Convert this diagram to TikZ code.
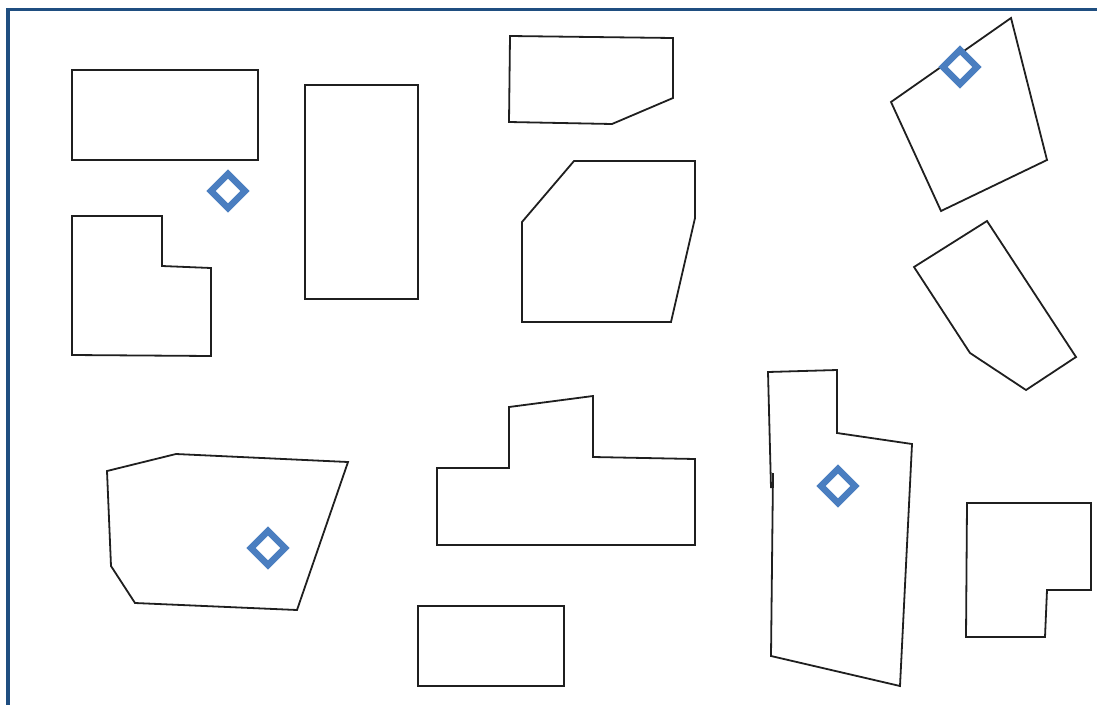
\documentclass[tikz,border=0pt]{standalone}
\begin{document}
\begin{tikzpicture}[x=1pt,y=-1pt,
  outline/.style={draw=black!88, line width=1.8pt, line join=miter},
  frame/.style={draw={rgb,255:red,31;green,78;blue,128}, line width=3.4pt},
  marker/.style={draw={rgb,255:red,74;green,126;blue,192}, line width=6.5pt, line join=miter}]
\useasboundingbox (0,0) rectangle (1097,704);
\draw[frame] (8,710) -- (8,9.5) -- (1100,9.5);
% shapes
\draw[outline] (72,70) rectangle (258,160);
\draw[outline] (72,216) -- (162,216) -- (162,266) -- (211,268) -- (211,356) -- (72,355) -- cycle;
\draw[outline] (305,85) rectangle (418,299);
\draw[outline] (510,36) -- (673,38) -- (673,98) -- (612,124) -- (509,122) -- cycle;
\draw[outline] (574,161) -- (695,161) -- (695,218) -- (671,322) -- (522,322) -- (522,222) -- cycle;
\draw[outline] (891,102) -- (1011,18) -- (1047,160) -- (941,211) -- cycle;
\draw[outline] (914,267) -- (987,221) -- (1076,357) -- (1026,390) -- (970,353) -- cycle;
\draw[outline] (107,471) -- (176,454) -- (348,462) -- (297,610) -- (135,603) -- (111,566) -- cycle;
\draw[outline] (437,468) -- (509,468) -- (509,407) -- (593,396) -- (593,457) -- (695,459) -- (695,545) -- (437,545) -- cycle;
\draw[outline] (418,606) rectangle (564,686);
\draw[outline] (773,473) -- (771,656) -- (900,686) -- (912,444) -- (837,433) -- (837,370) -- (768,372) -- (771,488);
\draw[outline] (967,503) -- (1091,503) -- (1091,590) -- (1047,590) -- (1045,637) -- (966,637) -- cycle;
% markers
\foreach \cx/\cy in {228/191, 268/548, 960/67, 838/486}
  \draw[marker] (\cx-17,\cy) -- (\cx,\cy-17) -- (\cx+17,\cy) -- (\cx,\cy+17) -- cycle;
\end{tikzpicture}
\end{document}
